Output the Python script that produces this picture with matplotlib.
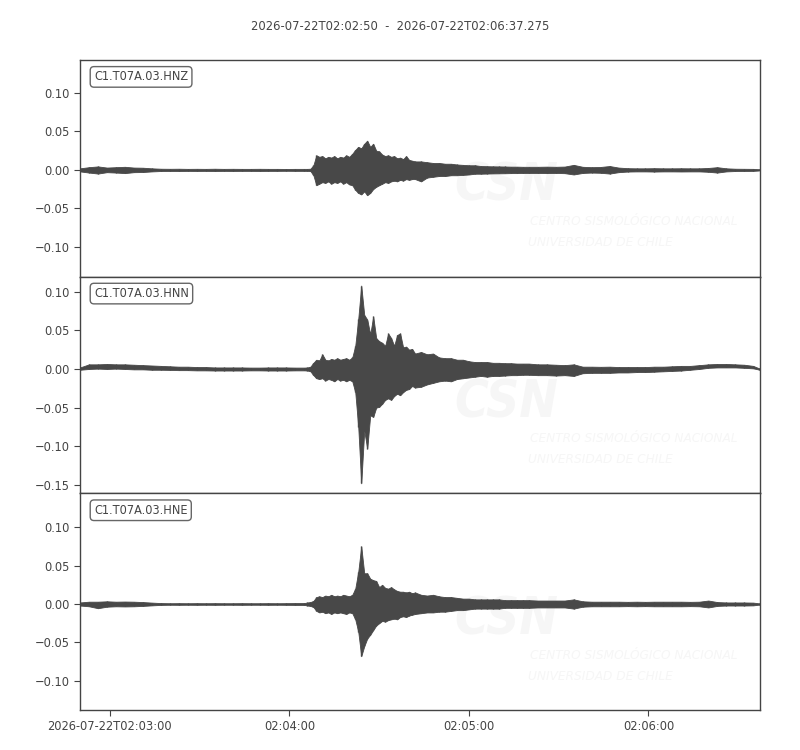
"""
Sismograma de 3 componentes (estilo ObsPy) da estação C1.T07A.03.
Os envelopes (máx/mín por janela de tempo) foram lidos da figura original.
"""

from datetime import datetime, timedelta

import numpy as np
import matplotlib
matplotlib.use('Agg')
import matplotlib.pyplot as plt
import matplotlib.dates as mdates
from matplotlib.ticker import MultipleLocator, FuncFormatter

plt.rcParams['font.family'] = ['DejaVu Sans']
plt.rcParams['font.stretch'] = 'condensed'

START = datetime(2026, 7, 22, 2, 2, 50)
END = START + timedelta(seconds=227.275)

CHANNELS = ['C1.T07A.03.HNZ', 'C1.T07A.03.HNN', 'C1.T07A.03.HNE']

# segundos desde o início
T = [0, 3, 6, 9, 12, 15, 18, 21, 24, 27, 30, 33, 36, 39, 42, 45, 48, 51, 54, 57,
     60, 63, 66, 69, 72, 75,
     76, 77, 78, 79, 80, 81, 82, 83, 84, 85, 86, 87, 88, 89, 90, 91, 92, 93, 94,
     95, 96, 97, 98, 99, 100, 101, 102, 103, 104, 105, 106, 107, 108, 109, 110,
     111, 112,
     114, 116, 118, 120, 122, 124, 126, 128, 130, 132, 134, 136, 138, 140, 142,
     144, 146, 148, 150,
     153, 156, 159, 162, 165, 168, 171, 174, 177, 180, 183, 186, 189, 192, 195,
     198, 201, 204, 207, 210, 213, 216, 219, 222, 225,
     227]

# ---- HNZ ----
HNZ_UP = [0.002, 0.0035, 0.0045, 0.003, 0.0035, 0.004, 0.003, 0.0028, 0.002, 0.0015,
          0.0014, 0.0015, 0.0013, 0.0014, 0.0013, 0.0015, 0.0013, 0.0014, 0.0013, 0.0013,
          0.0014, 0.0013, 0.0013, 0.0012, 0.0013, 0.0013,
          0.0013, 0.0015, 0.006, 0.019, 0.017, 0.018, 0.015, 0.017, 0.016, 0.018,
          0.015, 0.017, 0.016, 0.019, 0.017, 0.021, 0.026, 0.030, 0.028, 0.034,
          0.038, 0.030, 0.034, 0.025, 0.024, 0.020, 0.018, 0.019, 0.017, 0.018,
          0.015, 0.016, 0.014, 0.018, 0.013, 0.012, 0.011,
          0.011, 0.010, 0.009, 0.009, 0.008, 0.008, 0.007, 0.0065, 0.006, 0.006,
          0.005, 0.0048, 0.0046, 0.0045, 0.0044, 0.0042, 0.0042, 0.004, 0.004,
          0.004, 0.0042, 0.004, 0.0043, 0.0065, 0.004, 0.0035, 0.0038, 0.005, 0.003,
          0.0022, 0.002, 0.002, 0.0022, 0.002, 0.002, 0.0021, 0.002, 0.002, 0.0025,
          0.0035, 0.002, 0.0015, 0.0014, 0.0013,
          0.0008]
HNZ_LO = [-0.002, -0.0035, -0.0048, -0.003, -0.0035, -0.0042, -0.003, -0.0028, -0.002, -0.0015,
          -0.0014, -0.0015, -0.0013, -0.0014, -0.0013, -0.0015, -0.0013, -0.0014, -0.0013, -0.0013,
          -0.0014, -0.0013, -0.0013, -0.0012, -0.0013, -0.0013,
          -0.0013, -0.0015, -0.007, -0.020, -0.018, -0.016, -0.017, -0.015, -0.018, -0.016,
          -0.017, -0.015, -0.018, -0.016, -0.019, -0.020, -0.026, -0.030, -0.032, -0.028,
          -0.033, -0.030, -0.025, -0.022, -0.020, -0.018, -0.016, -0.017, -0.015, -0.014,
          -0.015, -0.013, -0.014, -0.012, -0.013, -0.012, -0.012,
          -0.015, -0.010, -0.009, -0.008, -0.008, -0.007, -0.007, -0.0065, -0.006, -0.005,
          -0.005, -0.0048, -0.0046, -0.0045, -0.0044, -0.0042, -0.0042, -0.004, -0.004,
          -0.004, -0.0042, -0.004, -0.0043, -0.006, -0.004, -0.0035, -0.0038, -0.0048, -0.003,
          -0.0022, -0.002, -0.002, -0.0022, -0.002, -0.002, -0.0021, -0.002, -0.002, -0.0025,
          -0.0035, -0.002, -0.0015, -0.0014, -0.0013,
          -0.0008]

# ---- HNN ----
HNN_UP = [0.002, 0.006, 0.006, 0.0065, 0.006, 0.006, 0.0055, 0.005, 0.0045, 0.004,
          0.0035, 0.003, 0.003, 0.0025, 0.0025, 0.002, 0.002, 0.002, 0.002, 0.0018,
          0.0018, 0.002, 0.002, 0.002, 0.0018, 0.0018,
          0.002, 0.003, 0.008, 0.012, 0.011, 0.019, 0.012, 0.011, 0.013, 0.012,
          0.014, 0.012, 0.013, 0.014, 0.012, 0.015, 0.030, 0.065, 0.108, 0.070,
          0.064, 0.045, 0.068, 0.040, 0.036, 0.034, 0.030, 0.046, 0.040, 0.030,
          0.044, 0.046, 0.028, 0.029, 0.025, 0.026, 0.020,
          0.022, 0.019, 0.020, 0.015, 0.014, 0.014, 0.012, 0.012, 0.010, 0.009,
          0.009, 0.009, 0.008, 0.008, 0.0075, 0.0075, 0.007, 0.007, 0.007,
          0.006, 0.006, 0.0055, 0.005, 0.006, 0.003, 0.003, 0.0028, 0.003, 0.0025,
          0.0025, 0.0025, 0.0025, 0.003, 0.003, 0.0035, 0.004, 0.004, 0.005, 0.006,
          0.0065, 0.0065, 0.006, 0.0055, 0.004,
          0.0008]
HNN_LO = [-0.001, 0.0, 0.0005, 0.0, 0.0005, 0.0, -0.0005, -0.0005, -0.001, -0.001,
          -0.0012, -0.0015, -0.0015, -0.0018, -0.0018, -0.002, -0.002, -0.002, -0.002, -0.0018,
          -0.0018, -0.002, -0.002, -0.002, -0.0018, -0.0018,
          -0.002, -0.003, -0.008, -0.012, -0.013, -0.012, -0.015, -0.013, -0.014, -0.016,
          -0.013, -0.015, -0.014, -0.016, -0.014, -0.016, -0.030, -0.075, -0.148, -0.080,
          -0.103, -0.060, -0.062, -0.050, -0.049, -0.045, -0.040, -0.038, -0.040, -0.035,
          -0.032, -0.034, -0.030, -0.027, -0.026, -0.022, -0.024,
          -0.023, -0.020, -0.018, -0.016, -0.015, -0.016, -0.013, -0.012, -0.011, -0.010,
          -0.009, -0.010, -0.009, -0.009, -0.0085, -0.008, -0.008, -0.0075, -0.0075,
          -0.008, -0.008, -0.0085, -0.008, -0.009, -0.0055, -0.005, -0.005, -0.005, -0.0045,
          -0.0045, -0.004, -0.004, -0.0035, -0.003, -0.0025, -0.002, -0.001, 0.0, 0.0015,
          0.002, 0.002, 0.002, 0.0015, 0.0008,
          -0.0008]

# ---- HNE ----
HNE_UP = [0.002, 0.003, 0.003, 0.0035, 0.003, 0.0032, 0.003, 0.0025, 0.0018, 0.0012,
          0.001, 0.0011, 0.001, 0.0011, 0.001, 0.0011, 0.001, 0.001, 0.0011, 0.001,
          0.001, 0.0011, 0.001, 0.0011, 0.0012, 0.0012,
          0.002, 0.0025, 0.004, 0.009, 0.010, 0.009, 0.011, 0.010, 0.012, 0.010,
          0.011, 0.010, 0.012, 0.011, 0.010, 0.012, 0.020, 0.042, 0.075, 0.040,
          0.040, 0.033, 0.031, 0.030, 0.022, 0.025, 0.021, 0.020, 0.022, 0.019,
          0.017, 0.016, 0.016, 0.015, 0.016, 0.014, 0.015,
          0.012, 0.011, 0.012, 0.010, 0.009, 0.009, 0.008, 0.007, 0.007, 0.006,
          0.006, 0.006, 0.006, 0.006, 0.005, 0.005, 0.005, 0.005, 0.005,
          0.0045, 0.0045, 0.0045, 0.0045, 0.006, 0.0035, 0.003, 0.003, 0.003, 0.003,
          0.0028, 0.003, 0.0028, 0.003, 0.003, 0.003, 0.003, 0.0028, 0.003, 0.0045,
          0.0025, 0.002, 0.002, 0.002, 0.0018,
          0.0008]
HNE_LO = [-0.002, -0.003, -0.0055, -0.0035, -0.003, -0.0032, -0.003, -0.0025, -0.0018, -0.0012,
          -0.001, -0.0011, -0.001, -0.0011, -0.001, -0.0011, -0.001, -0.001, -0.0011, -0.001,
          -0.001, -0.0011, -0.001, -0.0011, -0.0012, -0.0012,
          -0.002, -0.0025, -0.004, -0.009, -0.011, -0.010, -0.012, -0.011, -0.013, -0.011,
          -0.012, -0.011, -0.012, -0.013, -0.011, -0.012, -0.020, -0.036, -0.068, -0.055,
          -0.045, -0.040, -0.034, -0.028, -0.025, -0.022, -0.023, -0.021, -0.020, -0.019,
          -0.020, -0.017, -0.016, -0.017, -0.015, -0.014, -0.013,
          -0.012, -0.011, -0.011, -0.010, -0.010, -0.009, -0.008, -0.008, -0.007, -0.006,
          -0.006, -0.006, -0.006, -0.006, -0.005, -0.005, -0.005, -0.005, -0.005,
          -0.0045, -0.0045, -0.0045, -0.0045, -0.006, -0.0035, -0.003, -0.003, -0.003, -0.003,
          -0.0028, -0.003, -0.0028, -0.003, -0.003, -0.003, -0.003, -0.0028, -0.003, -0.0045,
          -0.0025, -0.002, -0.002, -0.002, -0.0018,
          -0.0008]

ENVELOPES = [(HNZ_UP, HNZ_LO), (HNN_UP, HNN_LO), (HNE_UP, HNE_LO)]
YLIMS = [(-0.139, 0.143), (-0.161, 0.1195), (-0.138, 0.144)]

TRACE_COLOR = '#484848'
TEXT_COLOR = '#444444'
MARK_COLOR = '#f6f6f6'


def minus_fmt(v, pos):
    s = f'{v:.2f}'
    if s == '-0.00':
        s = '0.00'
    return s.replace('-', '\u2212')


def time_fmt(x, pos):
    d = mdates.num2date(x)
    if pos == 0:
        return d.strftime('%Y-%m-%dT%H:%M:%S')
    return d.strftime('%H:%M:%S')


def add_watermark(ax):
    # logo do CSN, bem apagado, por trás do traço
    ax.text(0.55, 0.415, 'CSN', transform=ax.transAxes, fontsize=37,
            fontweight='bold', fontstyle='italic', color=MARK_COLOR,
            va='center', ha='left', zorder=0)
    ax.text(0.662, 0.253, 'CENTRO SISMOLÓGICO NACIONAL', transform=ax.transAxes,
            fontsize=9.7, fontstyle='italic', color=MARK_COLOR,
            va='center', ha='left', zorder=0)
    ax.text(0.659, 0.157, 'UNIVERSIDAD DE CHILE', transform=ax.transAxes,
            fontsize=9.7, fontstyle='italic', color=MARK_COLOR,
            va='center', ha='left', zorder=0)


times = [START + timedelta(seconds=s) for s in T]
x = mdates.date2num(times)

fig, axes = plt.subplots(3, 1, figsize=(8, 7.5), dpi=100, sharex=True)
fig.subplots_adjust(left=0.1, right=0.95, top=0.92, bottom=0.0533, hspace=0)

for ax, name, (up, lo), ylim in zip(axes, CHANNELS, ENVELOPES, YLIMS):
    up = np.array(up)
    lo = np.array(lo)
    add_watermark(ax)
    ax.fill_between(x, lo, up, color=TRACE_COLOR, lw=0.6, zorder=2)
    ax.vlines(x, lo, up, color=TRACE_COLOR, lw=1.0, zorder=2)

    ax.set_ylim(*ylim)
    ax.yaxis.set_major_locator(MultipleLocator(0.05))
    ax.yaxis.set_major_formatter(FuncFormatter(minus_fmt))
    ax.tick_params(axis='y', colors=TEXT_COLOR, labelsize=9.2, length=4)
    ax.tick_params(axis='x', colors=TEXT_COLOR, labelsize=9.2, length=4)
    for sp in ax.spines.values():
        sp.set_color('#444444')
        sp.set_linewidth(1.0)

    ax.text(0.0206, 0.922, name, transform=ax.transAxes, fontsize=9.1,
            color=TEXT_COLOR, va='center', ha='left', zorder=5,
            bbox=dict(boxstyle='round,pad=0.3', fc='white', ec='#666666', lw=1.0))

axes[0].set_xlim(mdates.date2num(START), mdates.date2num(END))
axes[-1].xaxis.set_major_locator(mdates.MinuteLocator())
axes[-1].xaxis.set_major_formatter(FuncFormatter(time_fmt))
for ax in axes[:-1]:
    ax.tick_params(axis='x', bottom=False, labelbottom=False)

fig.suptitle('2026-07-22T02:02:50  -  2026-07-22T02:06:37.275',
             y=0.973, fontsize=9.3, color=TEXT_COLOR)

fig.savefig('out.png', dpi=100)
